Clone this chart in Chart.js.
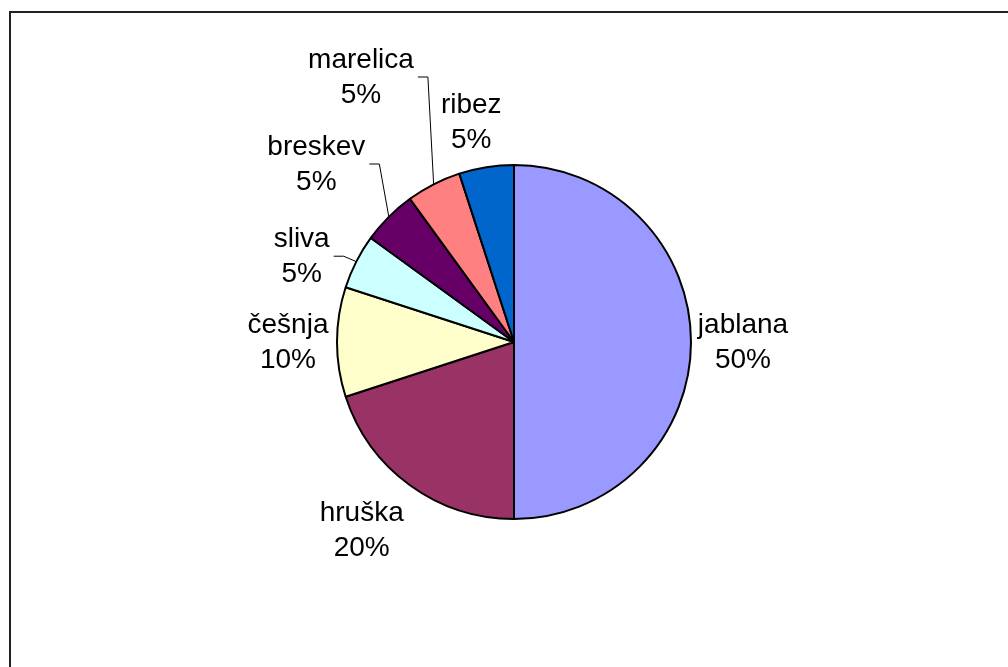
<!DOCTYPE html>
<html>
<head>
<meta charset="utf-8">
<script src="https://cdn.jsdelivr.net/npm/chart.js@4/dist/chart.umd.min.js"></script>
<style>
  html, body { margin: 0; padding: 0; background: #fff; overflow: hidden; }
  #wrap { position: relative; width: 1008px; height: 667px; }
</style>
</head>
<body>
<div id="wrap"><canvas id="pieChart" width="1008" height="667"></canvas></div>
<script>
// fruit trees by share
const fruits = ["jablana", "hruška", "češnja", "sliva", "breskev", "marelica", "ribez"];
const shares = [50, 20, 10, 5, 5, 5, 5];
const sliceColors = ["#9999FF", "#993366", "#FFFFCC", "#CCFFFF", "#660066", "#FF8080", "#0066CC"];

// how far out each label sits past the rim, and a small angle nudge (deg)
const labelGap = [52, 65, 49, 52, 89, 129, 47];
const labelTurn = [0, 3, 0, -5, -3, -3, -2];
// labels that get a leader line back to their slice
const withLeader = [false, false, false, true, true, true, false];

const frame = {
  id: "frame",
  beforeDraw(chart) {
    const ctx = chart.ctx;
    ctx.save();
    ctx.strokeStyle = "#222";
    ctx.lineWidth = 2;
    ctx.strokeRect(10, 12, 1100, 1000);
    ctx.restore();
  }
};

const outsideLabels = {
  id: "outsideLabels",
  afterDatasetsDraw(chart) {
    const ctx = chart.ctx;
    const meta = chart.getDatasetMeta(0);
    const total = shares.reduce((a, b) => a + b, 0);
    ctx.save();
    ctx.font = "28px 'Liberation Sans', Arial, sans-serif";
    ctx.fillStyle = "#000";
    ctx.textAlign = "center";
    ctx.textBaseline = "middle";
    meta.data.forEach((arc, i) => {
      const mid = (arc.startAngle + arc.endAngle) / 2;
      const a = mid + labelTurn[i] * Math.PI / 180;
      const dist = arc.outerRadius + labelGap[i];
      const cx = arc.x + Math.cos(a) * dist;
      const cy = arc.y + Math.sin(a) * dist;
      const pct = Math.round(shares[i] / total * 100) + "%";
      ctx.fillText(fruits[i], cx, cy - 17);
      ctx.fillText(pct, cx, cy + 18);

      if (withLeader[i]) {
        const w = Math.max(ctx.measureText(fruits[i]).width, ctx.measureText(pct).width);
        const x0 = cx + w / 2 + 4;
        const ex = arc.x + Math.cos(mid) * arc.outerRadius;
        const ey = arc.y + Math.sin(mid) * arc.outerRadius;
        ctx.beginPath();
        ctx.strokeStyle = "#000";
        ctx.lineWidth = 1;
        ctx.moveTo(x0, cy);
        ctx.lineTo(x0 + 10, cy);
        ctx.lineTo(ex, ey);
        ctx.stroke();
      }
    });
    ctx.restore();
  }
};

new Chart(document.getElementById("pieChart"), {
  type: "pie",
  data: {
    labels: fruits,
    datasets: [{
      data: shares,
      backgroundColor: sliceColors,
      borderColor: "#000",
      borderWidth: 2
    }]
  },
  options: {
    responsive: false,
    animation: false,
    layout: { padding: { left: 336, right: 316, top: 164, bottom: 147 } },
    plugins: {
      legend: { display: false },
      tooltip: { enabled: false }
    }
  },
  plugins: [frame, outsideLabels]
});
</script>
</body>
</html>
